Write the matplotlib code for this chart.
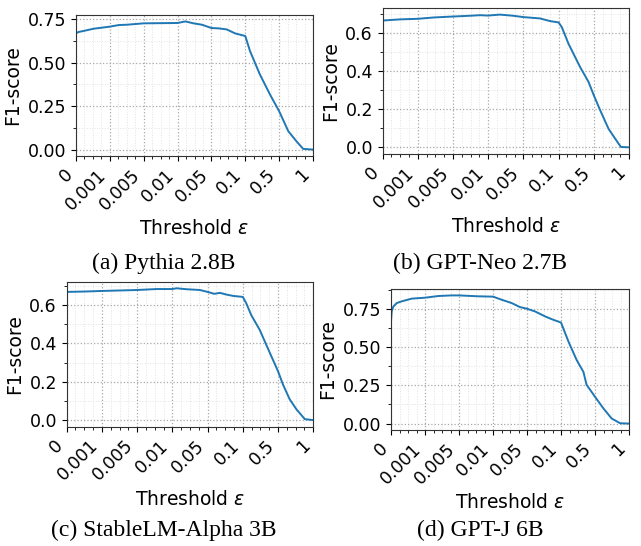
import numpy as np
import matplotlib
matplotlib.use("Agg")
import matplotlib.pyplot as plt
from matplotlib.ticker import FixedLocator, AutoMinorLocator

# threshold ticks (evenly spaced on the axis)
tick_values = [0, 0.001, 0.005, 0.01, 0.05, 0.1, 0.5, 1]
tick_labels = ["0", "0.001", "0.005", "0.01", "0.05", "0.1", "0.5", "1"]

# Pythia 2.8B
eps_a = [0, 0.00007, 0.00022, 0.00052, 0.001, 0.00204, 0.003, 0.005, 0.01, 0.0192,
         0.0288, 0.0388, 0.05, 0.0605, 0.0725, 0.085, 0.1, 0.156, 0.272, 0.392,
         0.5, 0.635, 0.755, 0.855, 1.0]
f1_a = [0.669, 0.677, 0.683, 0.696, 0.708, 0.717, 0.719, 0.727, 0.729, 0.738,
        0.727, 0.719, 0.700, 0.698, 0.692, 0.669, 0.654, 0.567, 0.433, 0.317,
        0.221, 0.106, 0.048, 0.004, 0.0]

# GPT-Neo 2.7B
eps_b = [0, 0.00049, 0.001, 0.0028, 0.005, 0.0074, 0.00885, 0.01, 0.0232, 0.0384,
         0.05, 0.0735, 0.088, 0.1, 0.136, 0.212, 0.344, 0.44, 0.5, 0.59,
         0.71, 0.805, 0.885, 1.0]
f1_b = [0.664, 0.670, 0.673, 0.680, 0.685, 0.689, 0.692, 0.690, 0.695, 0.689,
        0.682, 0.675, 0.661, 0.654, 0.630, 0.543, 0.421, 0.343, 0.273, 0.195,
        0.097, 0.045, 0.002, 0.0]

# StableLM-Alpha 3B
eps_c = [0, 0.0005, 0.001, 0.005, 0.00775, 0.01, 0.0148, 0.026, 0.0412, 0.05,
         0.0595, 0.0675, 0.077, 0.0865, 0.1, 0.14, 0.196, 0.292, 0.408, 0.5,
         0.57, 0.665, 0.76, 0.88, 1.0]
f1_c = [0.669, 0.671, 0.674, 0.679, 0.684, 0.684, 0.688, 0.683, 0.679, 0.669,
        0.659, 0.664, 0.655, 0.648, 0.643, 0.609, 0.548, 0.471, 0.350, 0.255,
        0.186, 0.109, 0.057, 0.005, 0.0]

# GPT-J 6B
eps_d = [0, 0.00002, 0.00007, 0.00017, 0.00031, 0.00061, 0.001, 0.00256, 0.00412, 0.005,
         0.00785, 0.01, 0.02, 0.032, 0.0416, 0.05, 0.062, 0.0765, 0.0885, 0.1,
         0.188, 0.284, 0.364, 0.40, 0.5, 0.625, 0.745, 0.87, 1.0]
f1_d = [0.667, 0.732, 0.765, 0.787, 0.798, 0.816, 0.822, 0.833, 0.837, 0.837,
        0.831, 0.829, 0.809, 0.787, 0.761, 0.750, 0.732, 0.700, 0.678, 0.660,
        0.535, 0.415, 0.337, 0.254, 0.175, 0.098, 0.033, 0.002, 0.0]

panels = [
    ("(a) Pythia 2.8B", eps_a, f1_a, [0.0, 0.25, 0.5, 0.75], "%.2f"),
    ("(b) GPT-Neo 2.7B", eps_b, f1_b, [0.0, 0.2, 0.4, 0.6], "%.1f"),
    ("(c) StableLM-Alpha 3B", eps_c, f1_c, [0.0, 0.2, 0.4, 0.6], "%.1f"),
    ("(d) GPT-J 6B", eps_d, f1_d, [0.0, 0.25, 0.5, 0.75], "%.2f"),
]

# axes boxes in figure fractions
boxes = [
    [0.1186, 0.7143, 0.3697, 0.2582],
    [0.5970, 0.7180, 0.3842, 0.2674],
    [0.1040, 0.2185, 0.3847, 0.2656],
    [0.6100, 0.2125, 0.3713, 0.2582],
]
captions_xy = [(0.255, 0.517), (0.749, 0.517), (0.255, 0.029), (0.749, 0.029)]

pos = np.arange(len(tick_values))


def forward(x):
    return np.interp(x, tick_values, pos)


def inverse(u):
    return np.interp(u, pos, tick_values)


minor_eps = inverse(np.arange(0, 7.001, 0.25))

fig = plt.figure(figsize=(6.41, 5.46), dpi=100)

for (caption, eps, f1, yticks, fmt), box, cxy in zip(panels, boxes, captions_xy):
    ax = fig.add_axes(box)
    ax.set_xscale("function", functions=(forward, inverse))
    ax.plot(eps, f1, color="#1f77b4", linewidth=1.4)
    ax.set_xlim(0, 1)
    ax.set_xticks(tick_values)
    ax.set_xticklabels(tick_labels, rotation=45, ha="right")
    ax.xaxis.set_minor_locator(FixedLocator(minor_eps))
    ax.set_yticks(yticks)
    ax.set_yticklabels([fmt % v for v in yticks])
    ax.yaxis.set_minor_locator(AutoMinorLocator(2))
    ax.tick_params(axis="both", which="major", labelsize=12.5)
    ax.grid(which="major", linestyle=":", color="#a8a8a8", linewidth=0.9)
    ax.grid(which="minor", linestyle=":", color="#e2e2e2", linewidth=0.7)
    ax.set_axisbelow(True)
    for s in ax.spines.values():
        s.set_color("#333333")
    ax.set_ylabel("F1-score", fontsize=13.5)
    ax.set_xlabel(r"Threshold $\varepsilon$", fontsize=13.5)
    fig.text(cxy[0], cxy[1], caption, ha="center", va="center",
             fontsize=17, family="Liberation Serif")

plt.savefig("out.png", dpi=100)
